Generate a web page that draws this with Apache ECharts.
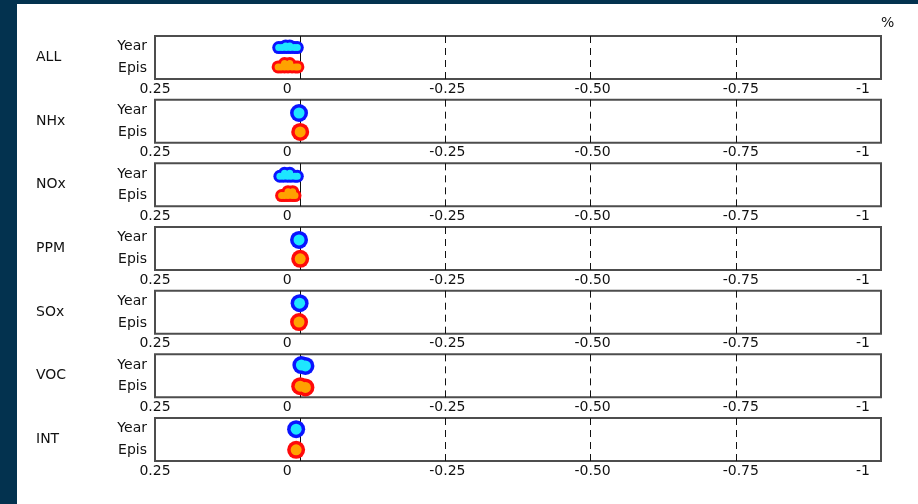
<!DOCTYPE html>
<html>
<head>
<meta charset="utf-8">
<script src="https://cdn.jsdelivr.net/npm/echarts@6/dist/echarts.min.js"></script>
<style>
    html, body { margin: 0; padding: 0; background: #03324f; }
    #main { position: absolute; left: 17px; top: 4px; width: 901px; height: 500px; background: #fff; }
</style>
</head>
<body>
<div id="main"></div>
<script>
    // panels and row names
    var panels = ['ALL', 'NHx', 'NOx', 'PPM', 'SOx', 'VOC', 'INT'];
    var rows = ['Epis', 'Year'];

    // x ticks (axis is reversed: 0.25 on the left, -1 on the right)
    var tickVals = [0.25, 0, -0.25, -0.5, -0.75, -1];
    var tickText = ['0.25', '0', '-0.25', '-0.50', '-0.75', '-1'];
    var dashedAt = [-0.25, -0.5, -0.75];

    // ensemble points [change, row position 0..1]
    var yearPts = [
        [[0.037, 0.73], [0.031, 0.73], [0.024, 0.73], [0.017, 0.73], [0.010, 0.73], [0.005, 0.73], [0.025, 0.77], [0.018, 0.77]],
        [[0.002, 0.69]],
        [[0.035, 0.70], [0.029, 0.70], [0.022, 0.70], [0.016, 0.70], [0.009, 0.70], [0.005, 0.70], [0.027, 0.77], [0.018, 0.77]],
        [[0.002, 0.70]],
        [[0.001, 0.71]],
        [[-0.002, 0.75], [-0.009, 0.73]],
        [[0.007, 0.74]]
    ];
    var episPts = [
        [[0.038, 0.28], [0.033, 0.28], [0.027, 0.28], [0.021, 0.28], [0.014, 0.28], [0.008, 0.28], [0.004, 0.28], [0.027, 0.36], [0.018, 0.36]],
        [[0.000, 0.25]],
        [[0.032, 0.25], [0.027, 0.25], [0.021, 0.25], [0.014, 0.25], [0.009, 0.25], [0.021, 0.34], [0.013, 0.34]],
        [[0.000, 0.26]],
        [[0.002, 0.27]],
        [[0.000, 0.26], [-0.009, 0.23]],
        [[0.007, 0.26]]
    ];

    var font = 'DejaVu Sans';
    var labelShift = [0, -13, 2, 2, 5, -18];
    var rich = {};
    labelShift.forEach(function (s, k) {
        rich['k' + k] = {
            fontFamily: font, fontSize: 14, color: '#111',
            padding: [0, Math.max(0, -2 * s), 0, Math.max(0, 2 * s)]
        };
    });

    var chart = echarts.init(document.getElementById('main'), null, {renderer: 'canvas'});

    var grids = [], xAxes = [], yAxes = [], series = [];
    var top0 = 32, step = 63.67, h = 43;

    panels.forEach(function (name, i) {
        grids.push({
            left: 138, width: 726, top: top0 + step * i, height: h,
            show: true, borderColor: '#4d4d4d', borderWidth: 2, backgroundColor: '#fff'
        });
        xAxes.push({
            gridIndex: i, type: 'value', inverse: true,
            min: -1, max: 0.25, interval: 0.25,
            axisLine: {show: false}, axisTick: {show: false}, splitLine: {show: false},
            axisLabel: {
                margin: 3, showMinLabel: true, showMaxLabel: true,
                formatter: function (v) {
                    for (var k = 0; k < tickVals.length; k++) {
                        if (Math.abs(v - tickVals[k]) < 1e-9) return '{k' + k + '|' + tickText[k] + '}';
                    }
                    return '';
                },
                rich: rich
            }
        });
        // visible row labels + panel name
        yAxes.push({
            gridIndex: i, type: 'category', data: rows,
            axisLine: {show: false}, axisTick: {show: false}, splitLine: {show: false},
            axisLabel: {margin: 8, fontFamily: font, fontSize: 14, color: '#111'},
            name: name, nameLocation: 'middle', nameRotate: 0, nameGap: 119,
            nameTextStyle: {align: 'left', fontFamily: font, fontSize: 14, color: '#111'}
        });
        // hidden value axis for the point positions
        yAxes.push({
            gridIndex: i, type: 'value', min: 0, max: 1, show: false
        });
        var yIdx = 2 * i + 1;

        // reference lines, kept under the points
        var lines = [{xAxis: 0, lineStyle: {type: 'solid', width: 1, color: '#111'}}];
        dashedAt.forEach(function (v) {
            lines.push({xAxis: v, lineStyle: {type: [7, 5], width: 1, color: '#111'}});
        });
        series.push({
            type: 'scatter', xAxisIndex: i, yAxisIndex: yIdx, data: [], z: 0,
            markLine: {silent: true, z: 0, symbol: 'none', label: {show: false}, animation: false, data: lines}
        });

        [[yearPts[i], '#0a14ff', '#1ee6ff'], [episPts[i], '#ff0a0a', '#ffa200']].forEach(function (s) {
            var pts = s[0];
            var big = pts.length <= 2;
            series.push({
                type: 'scatter', xAxisIndex: i, yAxisIndex: yIdx, data: pts, z: 3,
                symbol: 'circle', symbolSize: big ? 18 : 13,
                itemStyle: {color: s[1], opacity: 1}, silent: true
            });
            series.push({
                type: 'scatter', xAxisIndex: i, yAxisIndex: yIdx, data: pts, z: 4,
                symbol: 'circle', symbolSize: big ? 11 : 7,
                itemStyle: {color: s[2], opacity: 1}, silent: true
            });
        });
    });

    chart.setOption({
        animation: false,
        backgroundColor: '#fff',
        title: {text: '%', left: 859, top: 7, textStyle: {fontFamily: font, fontSize: 14, fontWeight: 'normal', color: '#111'}},
        grid: grids,
        xAxis: xAxes,
        yAxis: yAxes,
        series: series
    });
</script>
</body>
</html>
